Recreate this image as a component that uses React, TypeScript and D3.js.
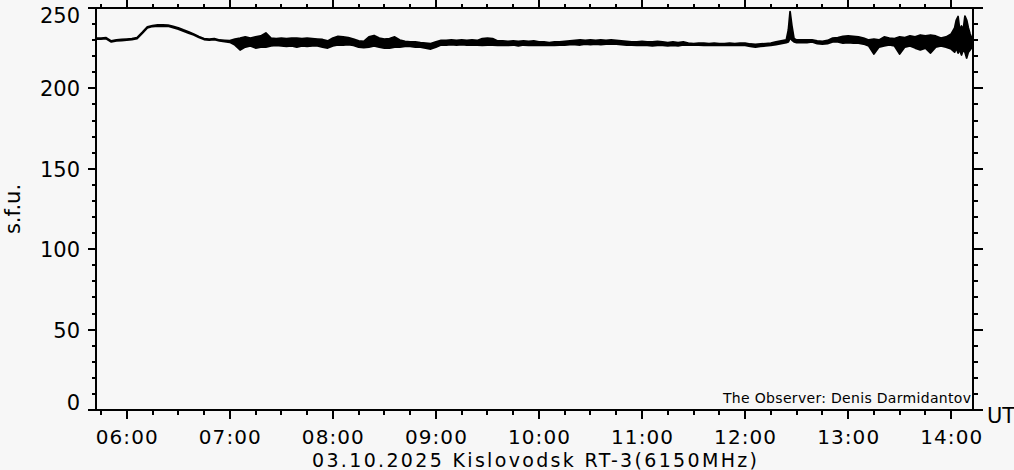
import React from "react";
import * as d3 from "d3";

// Time in minutes UT (03.10.2025)
const times: number[] = [
  342, 345, 348, 351, 354, 357, 360, 363, 366, 369, 372, 375, 378, 381, 384, 387, 390, 393, 396, 399,
  402, 405, 408, 411, 414, 417, 420, 423, 426, 429, 432, 435, 438, 441, 444, 447, 450, 453, 456, 459,
  462, 465, 468, 471, 474, 477, 480, 483, 486, 489, 492, 495, 498, 501, 504, 507, 510, 513, 516, 519,
  522, 525, 528, 531, 534, 537, 540, 543, 546, 549, 552, 555, 558, 561, 564, 567, 570, 573, 576, 579,
  582, 585, 588, 591, 594, 597, 600, 603, 606, 609, 612, 615, 618, 621, 624, 627, 630, 633, 636, 639,
  642, 645, 648, 651, 654, 657, 660, 663, 666, 669, 672, 675, 678, 681, 684, 687, 690, 693, 696, 699,
  702, 705, 708, 711, 714, 717, 720, 723, 726, 729, 732, 735, 738, 741, 744, 745.2, 746.2, 747.2, 748.5, 750,
  753, 756, 759, 762, 765, 768, 771, 774, 777, 780, 783, 786, 789, 792, 795, 798, 801, 804, 807, 810,
  813, 816, 819, 822, 825, 828, 831, 834, 837, 840, 842, 843, 844, 845, 846, 847, 848, 849, 850, 851, 852.5,
];

// Upper envelope of the flux (s.f.u.)
const fluxHigh: number[] = [
  231.3, 231.3, 231.5, 229.5, 230.1, 230.4, 230.7, 231.0, 231.6, 234.8, 238.2, 239.1, 239.5, 239.5, 239.4, 238.6, 237.7, 236.4, 235.2, 233.8,
  232.3, 231.0, 230.7, 231.0, 230.1, 229.9, 229.7, 230.7, 231.3, 232.0, 231.3, 232.0, 232.6, 234.5, 231.3, 231.0, 231.3, 231.0, 231.3, 231.3,
  231.0, 231.3, 231.0, 230.7, 230.4, 229.5, 231.3, 232.3, 232.0, 231.6, 230.7, 229.5, 229.2, 232.0, 232.9, 231.3, 230.7, 231.0, 232.0, 230.1,
  229.2, 228.9, 228.9, 228.5, 228.2, 227.9, 228.9, 229.8, 229.8, 230.1, 229.8, 230.1, 229.8, 230.1, 229.8, 231.0, 231.3, 231.0, 229.5, 229.5,
  229.2, 229.5, 229.2, 229.5, 229.2, 229.5, 228.9, 228.9, 228.5, 228.9, 228.9, 229.2, 229.5, 229.8, 230.1, 229.8, 230.1, 229.8, 230.1, 229.8,
  230.1, 229.8, 229.5, 229.2, 228.9, 228.9, 229.2, 228.9, 228.9, 229.2, 228.9, 228.5, 228.9, 228.5, 228.9, 228.2, 227.9, 228.2, 228.2, 227.9,
  228.2, 227.9, 227.9, 228.2, 227.9, 228.2, 228.2, 227.6, 227.3, 227.6, 227.9, 228.2, 228.9, 229.5, 230.1, 236.3, 247.8, 239.4, 231.0, 230.1,
  230.1, 230.1, 230.1, 229.5, 229.2, 229.8, 231.3, 231.6, 232.3, 232.6, 232.3, 232.0, 231.3, 230.1, 230.7, 230.1, 232.0, 231.3, 231.0, 232.0,
  231.6, 232.6, 232.0, 233.2, 232.6, 233.2, 232.6, 231.3, 232.0, 233.8, 237.6, 242.5, 244.7, 236.3, 238.8, 236.3, 245.0, 242.5, 237.6, 233.8, 230.1,
];

// Lower envelope of the flux (s.f.u.)
const fluxLow: number[] = [
  230.7, 230.7, 230.9, 228.9, 229.5, 229.8, 230.1, 230.4, 231.0, 234.2, 237.6, 238.5, 238.7, 238.6, 238.7, 237.8, 236.9, 235.6, 234.4, 233.2,
  231.7, 230.4, 230.1, 230.4, 229.5, 229.1, 228.7, 227.0, 223.9, 225.7, 226.4, 225.1, 225.7, 225.7, 226.4, 226.7, 226.4, 226.1, 226.4, 225.7,
  226.4, 226.1, 226.4, 226.4, 225.7, 225.1, 226.4, 227.0, 227.0, 227.3, 226.7, 225.7, 225.4, 225.7, 226.4, 225.7, 225.1, 225.1, 225.7, 225.7,
  226.1, 226.1, 225.7, 225.7, 225.1, 224.5, 225.7, 227.0, 227.0, 227.3, 227.0, 227.3, 227.0, 227.0, 227.0, 226.7, 227.0, 227.0, 226.7, 226.7,
  226.7, 227.0, 226.4, 227.0, 226.7, 227.0, 226.7, 226.7, 226.7, 226.7, 227.0, 227.0, 227.3, 227.3, 227.0, 227.6, 227.3, 227.6, 227.3, 227.6,
  227.6, 227.6, 227.3, 227.0, 227.0, 226.7, 226.7, 226.7, 226.4, 226.7, 226.7, 226.4, 226.7, 226.4, 227.0, 227.0, 227.0, 227.0, 226.7, 226.7,
  227.0, 226.7, 226.7, 227.0, 226.7, 227.0, 226.7, 226.1, 225.7, 226.1, 226.4, 226.7, 227.3, 227.9, 228.5, 228.9, 231.3, 230.1, 228.9, 228.5,
  228.5, 228.5, 228.9, 227.9, 227.6, 227.9, 228.9, 228.9, 228.2, 228.5, 228.2, 228.2, 227.6, 226.4, 221.4, 225.7, 226.4, 227.0, 226.4, 221.4,
  225.7, 226.4, 225.1, 223.9, 225.1, 222.0, 225.7, 226.4, 225.7, 224.5, 222.6, 225.1, 222.0, 223.9, 220.8, 223.9, 222.6, 218.9, 222.6, 223.9, 226.4,
];

const yMajorTicks: number[] = [0, 50, 100, 150, 200, 250];
const yMinorTicks: number[] = [10, 20, 30, 40, 60, 70, 80, 90, 110, 120, 130, 140, 160, 170, 180, 190, 210, 220, 230, 240];
const hourTicks: number[] = [360, 420, 480, 540, 600, 660, 720, 780, 840];
const hourLabels: string[] = ["06:00", "07:00", "08:00", "09:00", "10:00", "11:00", "12:00", "13:00", "14:00"];
const quarterTicks: number[] = [345, 375, 390, 405, 435, 450, 465, 495, 510, 525, 555, 570, 585, 615, 630, 645, 675, 690, 705, 735, 750, 765, 795, 810, 825];

const W = 1014;
const H = 470;
const left = 96;
const right = 973;
const top = 8;
const bottom = 410;
const FONT = "'DejaVu Sans', sans-serif";

export default function App() {
  const x = d3.scaleLinear().domain([342.1, 852.7]).range([left, right]);
  const y = d3.scaleLinear().domain([0, 250]).range([bottom, top]);

  const idx = d3.range(times.length);
  const area = d3
    .area<number>()
    .x((i) => x(times[i]))
    .y0((i) => y(fluxLow[i]))
    .y1((i) => y(fluxHigh[i]));
  const path = area(idx) || "";

  const bg = "#f7f7f7";
  return (
    <svg
      width={W}
      height={H}
      style={{ position: "absolute", left: 0, top: 0, display: "block" }}
      fontFamily={FONT}
    >
      <rect x={0} y={0} width={W} height={H} fill={bg} />
      {/* data */}
      <path d={path} fill="#000" stroke="#000" strokeWidth={1.8} strokeLinejoin="round" />
      {/* frame */}
      <g stroke="#000" strokeWidth={2} shapeRendering="crispEdges" fill="none">
        <line x1={left} x2={right} y1={top} y2={top} />
        <line x1={left} x2={right} y1={bottom} y2={bottom} />
        <line x1={left} x2={left} y1={top} y2={bottom} />
        <line x1={right} x2={right} y1={top} y2={bottom} />
        {yMajorTicks.map((v) => (
          <g key={"ym" + v}>
            <line x1={left - 8} x2={left} y1={y(v)} y2={y(v)} />
            <line x1={right} x2={right + 10} y1={y(v)} y2={y(v)} />
          </g>
        ))}
        {yMinorTicks.map((v) => (
          <g key={"yn" + v}>
            <line x1={left - 4} x2={left} y1={y(v)} y2={y(v)} />
            <line x1={right} x2={right + 5} y1={y(v)} y2={y(v)} />
          </g>
        ))}
        {hourTicks.map((t) => (
          <g key={"xm" + t}>
            <line x1={x(t)} x2={x(t)} y1={top} y2={0} />
            <line x1={x(t)} x2={x(t)} y1={bottom} y2={bottom + 9} />
          </g>
        ))}
        {quarterTicks.map((t) => (
          <g key={"xn" + t}>
            <line x1={x(t)} x2={x(t)} y1={top} y2={top - 4} />
            <line x1={x(t)} x2={x(t)} y1={bottom} y2={bottom + 5} />
          </g>
        ))}
      </g>
      {/* y labels */}
      <g fontSize={21} fill="#000" textAnchor="end">
        {yMajorTicks.map((v) => (
          <text key={"yl" + v} x={80} y={Math.max(23, Math.min(410, y(v) + 8))}>
            {v}
          </text>
        ))}
      </g>
      {/* x labels */}
      <g fontSize={20} fill="#000" textAnchor="middle">
        {hourTicks.map((t, i) => (
          <text key={"xl" + t} x={x(t)} y={444} textLength={62} lengthAdjust="spacing">
            {hourLabels[i]}
          </text>
        ))}
      </g>
      <text x={987} y={423} fontSize={21} fill="#000">
        UT
      </text>
      <text
        transform="translate(20,209) rotate(-90)"
        fontSize={21}
        fill="#000"
        textAnchor="middle"
      >
        s.f.u.
      </text>
      <text x={312} y={467} fontSize={19} fill="#000" textLength={445} lengthAdjust="spacing">
        03.10.2025 Kislovodsk RT-3(6150MHz)
      </text>
      <text x={723} y={403} fontSize={14} fill="#000" textLength={248} lengthAdjust="spacing">
        The Observer: Denis Darmidantov
      </text>
    </svg>
  );
}
